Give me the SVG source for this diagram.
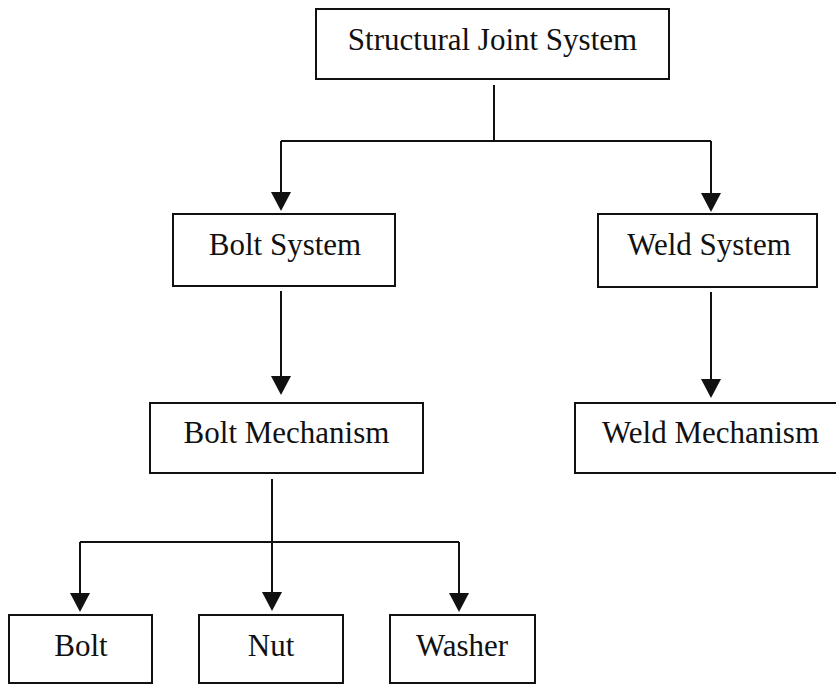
<svg xmlns="http://www.w3.org/2000/svg" width="836" height="684" viewBox="0 0 836 684">
  <style>
    .box { fill: #ffffff; stroke: #111111; stroke-width: 2; }
    .label { font-family: "Liberation Serif", "Times New Roman", serif; font-size: 31px; fill: #111111; text-anchor: middle; }
    .wire { fill: none; stroke: #111111; stroke-width: 2; }
  </style>
  <defs>
    <!-- filled triangular head; the wire ends 17px short of the tip -->
    <marker id="arrow" markerUnits="userSpaceOnUse" markerWidth="20" markerHeight="22" viewBox="0 0 20 22" refX="2" refY="11" orient="auto">
      <polygon points="0,1 19,11 0,21" fill="#111111"/>
    </marker>
  </defs>
  <rect width="836" height="684" fill="#ffffff"/>

  <g id="connectors">
    <!-- root to two subsystems -->
    <path class="wire" d="M494,85 V141"/>
    <path class="wire" d="M281,141 H711"/>
    <path class="wire" d="M281,141 V194" marker-end="url(#arrow)"/>
    <path class="wire" d="M711,141 V195" marker-end="url(#arrow)"/>
    <!-- subsystems to mechanisms -->
    <path class="wire" d="M281,291 V378" marker-end="url(#arrow)"/>
    <path class="wire" d="M711,292 V381" marker-end="url(#arrow)"/>
    <!-- bolt mechanism to parts -->
    <path class="wire" d="M272,479 V594" marker-end="url(#arrow)"/>
    <path class="wire" d="M80,542 H459"/>
    <path class="wire" d="M80,542 V595" marker-end="url(#arrow)"/>
    <path class="wire" d="M459,542 V595" marker-end="url(#arrow)"/>
  </g>

  <g id="structural-joint-system">
    <rect class="box" x="316" y="9" width="353" height="70"/>
    <text class="label" x="492.5" y="50">Structural Joint System</text>
  </g>
  <g id="bolt-system">
    <rect class="box" x="173" y="214" width="222" height="72"/>
    <text class="label" x="285" y="255">Bolt System</text>
  </g>
  <g id="weld-system">
    <rect class="box" x="598" y="214" width="219" height="73"/>
    <text class="label" x="709" y="255">Weld System</text>
  </g>
  <g id="bolt-mechanism">
    <rect class="box" x="150" y="403" width="273" height="70"/>
    <text class="label" x="286.5" y="443">Bolt Mechanism</text>
  </g>
  <g id="weld-mechanism">
    <rect class="box" x="575" y="403" width="274" height="70"/>
    <text class="label" x="710.5" y="443">Weld Mechanism</text>
  </g>
  <g id="bolt">
    <rect class="box" x="9" y="615" width="143" height="68"/>
    <text class="label" x="81" y="656">Bolt</text>
  </g>
  <g id="nut">
    <rect class="box" x="199" y="615" width="144" height="68"/>
    <text class="label" x="271" y="656">Nut</text>
  </g>
  <g id="washer">
    <rect class="box" x="390" y="615" width="145" height="68"/>
    <text class="label" x="462" y="656">Washer</text>
  </g>
</svg>
